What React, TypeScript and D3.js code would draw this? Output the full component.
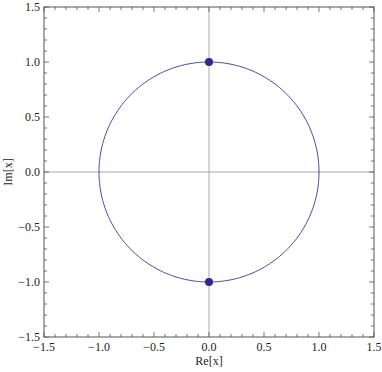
import React from "react";
import * as d3 from "d3";

const xTicks = [-1.5, -1.0, -0.5, 0.0, 0.5, 1.0, 1.5];
const yTicks = [-1.5, -1.0, -0.5, 0.0, 0.5, 1.0, 1.5];
const circleRadius = 1;
const points = [
  { re: 0, im: 1 },
  { re: 0, im: -1 },
];

const width = 382;
const height = 372;
const margin = { top: 7, right: 8, bottom: 35, left: 44 };
const frame = "#555555";
const font = "'Liberation Serif', 'Times New Roman', Times, serif";

const fmt = (v: number) => d3.format(".1f")(v).replace("-", "\u2212");

const App = () => {
  const x = d3
    .scaleLinear()
    .domain([-1.5, 1.5])
    .range([margin.left, width - margin.right]);
  const y = d3
    .scaleLinear()
    .domain([-1.5, 1.5])
    .range([height - margin.bottom, margin.top]);

  const minor = d3.range(-15, 16).map((i) => i / 10);
  const isMajor = (v: number) => Math.abs(v * 2 - Math.round(v * 2)) < 1e-6;

  const circle = d3.range(0, 361).map((a) => {
    const t = (a * Math.PI) / 180;
    return [x(circleRadius * Math.cos(t)), y(circleRadius * Math.sin(t))] as [number, number];
  });
  const line = d3.line();

  const [x0, x1] = x.range();
  const [y0, y1] = y.range();

  return (
    <svg width={width} height={height} style={{ position: "absolute", left: 0, top: 0 }}>
      <rect width={width} height={height} fill="white" />
      {/* axes through origin */}
      <line x1={x(0)} x2={x(0)} y1={y1} y2={y0} stroke="#aaaaaa" strokeWidth={1} />
      <line x1={x0} x2={x1} y1={y(0)} y2={y(0)} stroke="#aaaaaa" strokeWidth={1} />

      <path d={line(circle) || ""} fill="none" stroke="#4444aa" strokeWidth={1} />
      {points.map((p, i) => (
        <circle key={i} cx={x(p.re)} cy={y(p.im)} r={4} fill="#2a2a8a" />
      ))}

      {/* frame */}
      <rect x={x0} y={y1} width={x1 - x0} height={y0 - y1} fill="none" stroke={frame} strokeWidth={1} />
      {minor.map((v) => {
        const len = isMajor(v) ? 5 : 3;
        return (
          <g key={v} stroke={frame} strokeWidth={0.8}>
            <line x1={x(v)} x2={x(v)} y1={y0} y2={y0 - len} />
            <line x1={x(v)} x2={x(v)} y1={y1} y2={y1 + len} />
            <line x1={x0} x2={x0 + len} y1={y(v)} y2={y(v)} />
            <line x1={x1} x2={x1 - len} y1={y(v)} y2={y(v)} />
          </g>
        );
      })}

      <g fontFamily={font} fontSize={12} fill="#222">
        {xTicks.map((v) => (
          <text key={v} x={x(v)} y={y0 + 14} textAnchor="middle">
            {fmt(v)}
          </text>
        ))}
        {yTicks.map((v) => (
          <text key={v} x={x0 - 4} y={y(v) + 4} textAnchor="end">
            {fmt(v)}
          </text>
        ))}
        <text x={(x0 + x1) / 2} y={y0 + 28} textAnchor="middle">
          Re[x]
        </text>
        <text transform={`translate(12, ${(y0 + y1) / 2}) rotate(-90)`} textAnchor="middle">
          Im[x]
        </text>
      </g>
    </svg>
  );
};

export default App;
